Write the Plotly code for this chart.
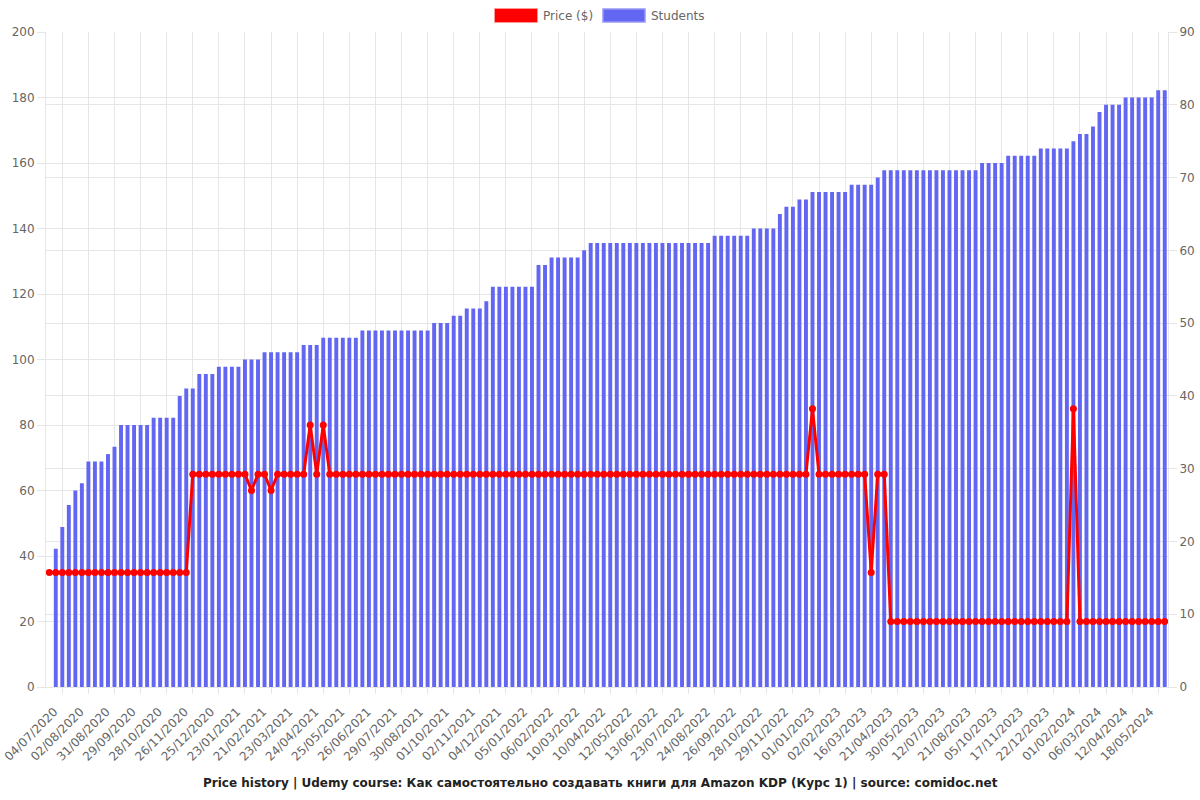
import plotly.graph_objects as go

# ---- data ----
tick_labels = [
    "04/07/2020", "02/08/2020", "31/08/2020", "29/09/2020", "28/10/2020", "26/11/2020",
    "25/12/2020", "23/01/2021", "21/02/2021", "23/03/2021", "24/04/2021", "25/05/2021",
    "26/06/2021", "29/07/2021", "30/08/2021", "01/10/2021", "02/11/2021", "04/12/2021",
    "05/01/2022", "06/02/2022", "10/03/2022", "10/04/2022", "12/05/2022", "13/06/2022",
    "23/07/2022", "24/08/2022", "26/09/2022", "28/10/2022", "29/11/2022", "01/01/2023",
    "02/02/2023", "16/03/2023", "21/04/2023", "30/05/2023", "12/07/2023", "21/08/2023",
    "05/10/2023", "17/11/2023", "22/12/2023", "01/02/2024", "06/03/2024", "12/04/2024",
    "18/05/2024",
]

students = [
    None, 19, 22, 25, 27, 28, 31, 31, 31, 32,
    33, 36, 36, 36, 36, 36, 37, 37, 37, 37,
    40, 41, 41, 43, 43, 43, 44, 44, 44, 44,
    45, 45, 45, 46, 46, 46, 46, 46, 46, 47,
    47, 47, 48, 48, 48, 48, 48, 48, 49, 49,
    49, 49, 49, 49, 49, 49, 49, 49, 49, 50,
    50, 50, 51, 51, 52, 52, 52, 53, 55, 55,
    55, 55, 55, 55, 55, 58, 58, 59, 59, 59,
    59, 59, 60, 61, 61, 61, 61, 61, 61, 61,
    61, 61, 61, 61, 61, 61, 61, 61, 61, 61,
    61, 61, 62, 62, 62, 62, 62, 62, 63, 63,
    63, 63, 65, 66, 66, 67, 67, 68, 68, 68,
    68, 68, 68, 69, 69, 69, 69, 70, 71, 71,
    71, 71, 71, 71, 71, 71, 71, 71, 71, 71,
    71, 71, 71, 72, 72, 72, 72, 73, 73, 73,
    73, 73, 74, 74, 74, 74, 74, 75, 76, 76,
    77, 79, 80, 80, 80, 81, 81, 81, 81, 81,
    82, 82,
]

price = [
    34.99, 34.99, 34.99, 34.99, 34.99, 34.99, 34.99, 34.99, 34.99, 34.99,
    34.99, 34.99, 34.99, 34.99, 34.99, 34.99, 34.99, 34.99, 34.99, 34.99,
    34.99, 34.99, 64.99, 64.99, 64.99, 64.99, 64.99, 64.99, 64.99, 64.99,
    64.99, 59.99, 64.99, 64.99, 59.99, 64.99, 64.99, 64.99, 64.99, 64.99,
    79.99, 64.99, 79.99, 64.99, 64.99, 64.99, 64.99, 64.99, 64.99, 64.99,
    64.99, 64.99, 64.99, 64.99, 64.99, 64.99, 64.99, 64.99, 64.99, 64.99,
    64.99, 64.99, 64.99, 64.99, 64.99, 64.99, 64.99, 64.99, 64.99, 64.99,
    64.99, 64.99, 64.99, 64.99, 64.99, 64.99, 64.99, 64.99, 64.99, 64.99,
    64.99, 64.99, 64.99, 64.99, 64.99, 64.99, 64.99, 64.99, 64.99, 64.99,
    64.99, 64.99, 64.99, 64.99, 64.99, 64.99, 64.99, 64.99, 64.99, 64.99,
    64.99, 64.99, 64.99, 64.99, 64.99, 64.99, 64.99, 64.99, 64.99, 64.99,
    64.99, 64.99, 64.99, 64.99, 64.99, 64.99, 64.99, 84.99, 64.99, 64.99,
    64.99, 64.99, 64.99, 64.99, 64.99, 64.99, 34.99, 64.99, 64.99, 19.99,
    19.99, 19.99, 19.99, 19.99, 19.99, 19.99, 19.99, 19.99, 19.99, 19.99,
    19.99, 19.99, 19.99, 19.99, 19.99, 19.99, 19.99, 19.99, 19.99, 19.99,
    19.99, 19.99, 19.99, 19.99, 19.99, 19.99, 19.99, 84.99, 19.99, 19.99,
    19.99, 19.99, 19.99, 19.99, 19.99, 19.99, 19.99, 19.99, 19.99, 19.99,
    19.99, 19.99,
]

series_names = ["Price ($)", "Students"]

title_text = ("Price history | Udemy course: Как самостоятельно создавать книги "
              "для Amazon KDP (Курс 1) | source: comidoc.net")

# ---- layout constants ----
W, H = 1200, 800
ML, MR, MT, MB = 46, 32, 32, 113
PW, PH = W - ML - MR, H - MT - MB

FONT = "DejaVu Sans"
GRID = "#e6e6e6"
TXT = "#666666"
BAR = "#6366f1"
RED = "#ff0000"


def px_x(p):
    return (p - ML) / PW


def px_y(p):
    return (H - MB - p) / PH


n = len(students)
x = list(range(n))
label_step = 4
tickvals = list(range(0, n, label_step))[:len(tick_labels)]

fig = go.Figure()
fig.add_trace(go.Bar(
    x=x, y=students, name=series_names[1], yaxis="y",
    width=0.6, marker=dict(color=BAR, line=dict(width=0)),
    showlegend=False,
))
fig.add_trace(go.Scatter(
    x=x, y=price, name=series_names[0], yaxis="y2", mode="lines+markers",
    line=dict(color=RED, width=3), marker=dict(color=RED, size=7),
    showlegend=False,
))

axis_common = dict(
    gridcolor=GRID, ticks="outside", ticklen=8, tickcolor=GRID,
    showline=True, linecolor=GRID, zeroline=False,
    tickfont=dict(family=FONT, size=12, color=TXT),
)

# box-style legend like the reference (swatch 42x13 px, label to the right)
legend_items = [(series_names[0], RED, "rgba(255,0,0,0.55)", 495),
                (series_names[1], BAR, "rgba(150,152,245,1)", 603)]
shapes, annotations = [], []
for name, fill, edge, left in legend_items:
    shapes.append(dict(type="rect", xref="paper", yref="paper",
                       x0=px_x(left), x1=px_x(left + 42), y0=px_y(22), y1=px_y(9),
                       fillcolor=fill, line=dict(color=edge, width=1.5), layer="above"))
    annotations.append(dict(text=name, xref="paper", yref="paper", x=px_x(left + 46),
                            y=px_y(16), xanchor="left", yanchor="middle", showarrow=False,
                            font=dict(family=FONT, size=12, color=TXT)))

annotations.append(dict(
    text="<b>" + title_text + "</b>", xref="paper", yref="paper",
    x=px_x(W / 2), y=px_y(783), xanchor="center", yanchor="middle", showarrow=False,
    font=dict(family=FONT, size=12, color="#222222"),
))

fig.update_layout(
    width=W, height=H,
    margin=dict(l=ML, r=MR, t=MT, b=MB, autoexpand=False),
    paper_bgcolor="white", plot_bgcolor="white",
    font=dict(family=FONT, size=12, color=TXT),
    barmode="overlay",
    showlegend=False,
    xaxis=dict(
        range=[-0.5, n - 0.5], tickmode="array", tickvals=tickvals, ticktext=tick_labels,
        tickangle=-45, showgrid=False, ticks="", showline=True, linecolor=GRID,
        zeroline=False, tickfont=dict(family=FONT, size=12, color=TXT),
        ticklabeloverflow="allow", ticklabelshift=5, ticklabelstandoff=12,
        minor=dict(tick0=2, dtick=label_step, showgrid=True, gridcolor=GRID,
                   ticks="outside", ticklen=6, tickcolor=GRID),
    ),
    yaxis=dict(side="right", range=[0, 90], dtick=10, **axis_common),
    yaxis2=dict(side="left", overlaying="y", range=[0, 200], dtick=20, **axis_common),
    shapes=shapes,
    annotations=annotations,
)

fig.write_html("out.html")
